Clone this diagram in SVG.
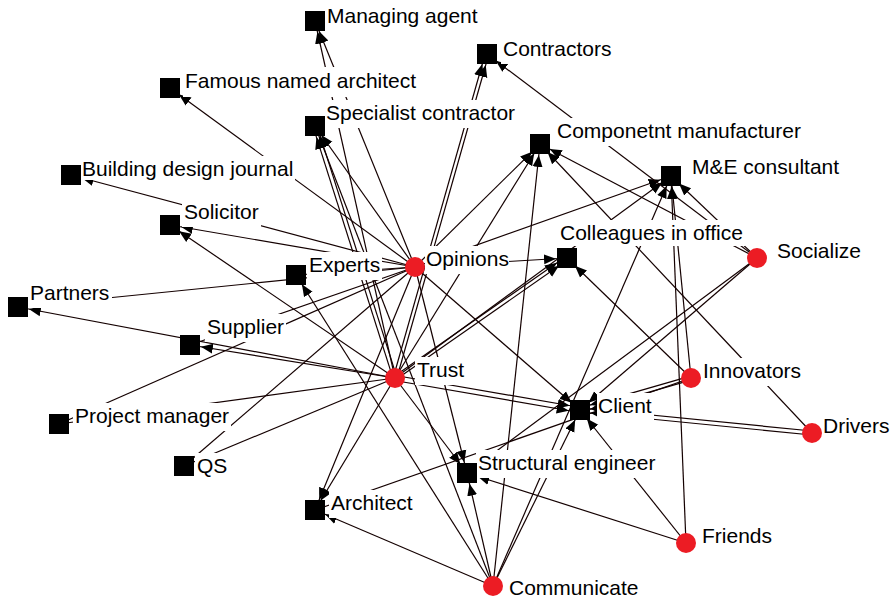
<svg xmlns="http://www.w3.org/2000/svg" width="891" height="601" viewBox="0 0 891 601">
  <defs>
    <marker id="arrow" markerUnits="userSpaceOnUse" markerWidth="24" markerHeight="12" viewBox="0 0 24 12" refX="23" refY="6" orient="auto">
      <path d="M0,1 L12,6 L0,11 z" fill="#000"/>
    </marker>
    <style>
      .e { stroke: #140000; stroke-width: 1.2; fill: none; marker-end: url(#arrow); }
      .p { stroke: #140000; stroke-width: 1.2; fill: none; }
      .bg { fill: #fff; }
      .lbl { font-family: "Liberation Sans", Arial, Helvetica, sans-serif; font-size: 21px; fill: #000; }
      .sq { fill: #000; }
      .dot { fill: #ec1c24; }
    </style>
  </defs>
  <rect width="891" height="601" fill="#fff"/>

  <!-- connectors: drawn centre to centre, arrowhead pulled back to the target's edge -->
  <g id="edges">
    <!-- Opinions -->
    <line class="e" x1="415" y1="267" x2="315" y2="21"/>
    <line class="e" x1="415" y1="267" x2="170" y2="88"/>
    <line class="e" x1="415" y1="267" x2="315" y2="126"/>
    <line class="e" x1="415" y1="267" x2="71" y2="175"/>
    <line class="e" x1="415" y1="267" x2="170" y2="225"/>
    <line class="e" x1="415" y1="267" x2="296" y2="275"/>
    <line class="p" x1="415" y1="267" x2="18" y2="307"/>
    <line class="p" x1="415" y1="267" x2="190" y2="345"/>
    <line class="p" x1="415" y1="267" x2="59" y2="424"/>
    <line class="p" x1="415" y1="267" x2="184" y2="466"/>
    <line class="e" x1="415" y1="267" x2="315" y2="510"/>
    <line class="e" x1="415" y1="267" x2="540" y2="144"/>
    <line class="e" x1="415" y1="267" x2="671" y2="176"/>
    <line class="e" x1="415" y1="267" x2="567" y2="258"/>
    <line class="e" x1="415" y1="267" x2="580" y2="410"/>
    <line class="e" x1="415" y1="267" x2="467" y2="473"/>
    <!-- Trust -->
    <line class="e" x1="395" y1="378" x2="315" y2="21"/>
    <line class="e" x1="393.1" y1="378.6" x2="313.1" y2="126.6"/>
    <line class="e" x1="396.9" y1="377.4" x2="316.9" y2="125.4"/>
    <line class="e" x1="395" y1="378" x2="170" y2="225"/>
    <line class="e" x1="395" y1="378" x2="18" y2="307"/>
    <line class="e" x1="395" y1="378" x2="190" y2="345"/>
    <line class="p" x1="395" y1="378" x2="59" y2="424"/>
    <line class="p" x1="395" y1="378" x2="184" y2="466"/>
    <line class="e" x1="395" y1="378" x2="315" y2="510"/>
    <line class="e" x1="393.3" y1="377.5" x2="485.3" y2="53.5"/>
    <line class="e" x1="396.7" y1="378.5" x2="488.7" y2="54.5"/>
    <line class="e" x1="395" y1="378" x2="540" y2="144"/>
    <line class="e" x1="395" y1="378" x2="671" y2="176"/>
    <line class="e" x1="394" y1="376.5" x2="566" y2="256.5"/>
    <line class="e" x1="396" y1="379.5" x2="568" y2="259.5"/>
    <line class="e" x1="395.5" y1="375.5" x2="580.5" y2="407.5"/>
    <line class="e" x1="394.5" y1="380.5" x2="579.5" y2="412.5"/>
    <line class="e" x1="395" y1="378" x2="467" y2="473"/>
    <!-- Communicate -->
    <line class="e" x1="493" y1="586" x2="315" y2="510"/>
    <line class="e" x1="493" y1="586" x2="296" y2="275"/>
    <line class="e" x1="493" y1="586" x2="315" y2="126"/>
    <line class="e" x1="493" y1="586" x2="467" y2="473"/>
    <line class="e" x1="493" y1="586" x2="540" y2="144"/>
    <line class="e" x1="493" y1="586" x2="580" y2="410"/>
    <line class="e" x1="493" y1="586" x2="671" y2="176"/>
    <!-- Socialize -->
    <line class="e" x1="757" y1="258" x2="487" y2="54"/>
    <line class="e" x1="757" y1="258" x2="540" y2="144"/>
    <line class="e" x1="757" y1="258" x2="671" y2="176"/>
    <line class="e" x1="757" y1="258" x2="580" y2="410"/>
    <line class="e" x1="757" y1="258" x2="467" y2="473"/>
    <!-- Innovators -->
    <line class="e" x1="691" y1="378" x2="567" y2="258"/>
    <line class="e" x1="690.4" y1="376.1" x2="579.4" y2="408.1"/>
    <line class="e" x1="691.6" y1="379.9" x2="580.6" y2="411.9"/>
    <line class="e" x1="691" y1="378" x2="671" y2="176"/>
    <line class="p" x1="691" y1="378" x2="315" y2="510"/>
    <!-- Drivers -->
    <line class="e" x1="812.2" y1="431" x2="580.2" y2="408"/>
    <line class="e" x1="811.8" y1="435" x2="579.8" y2="412"/>
    <line class="e" x1="812" y1="433" x2="540" y2="144"/>
    <!-- Friends -->
    <line class="e" x1="686" y1="543" x2="671" y2="176"/>
    <line class="e" x1="686" y1="543" x2="467" y2="473"/>
    <line class="e" x1="686" y1="543" x2="580" y2="410"/>
  </g>

  <!-- actor nodes (squares) -->
  <g id="managing-agent"><rect class="bg" x="325" y="2" width="154" height="29"/><text class="lbl" x="327" y="23">Managing agent</text><rect class="sq" x="305" y="11" width="20" height="20"/></g>
  <g id="famous-named-architect"><rect class="bg" x="183" y="67" width="235" height="30"/><text class="lbl" x="185" y="88">Famous named architect</text><rect class="sq" x="160" y="78" width="20" height="20"/></g>
  <g id="specialist-contractor"><rect class="bg" x="324" y="100" width="193" height="28"/><text class="lbl" x="326" y="120">Specialist contractor</text><rect class="sq" x="305" y="116" width="20" height="20"/></g>
  <g id="building-design-journal"><rect class="bg" x="80" y="156" width="215" height="24"/><text class="lbl" x="82" y="176">Building design journal</text><rect class="sq" x="61" y="165" width="20" height="20"/></g>
  <g id="solicitor"><rect class="bg" x="182" y="199" width="79" height="28"/><text class="lbl" x="184" y="219">Solicitor</text><rect class="sq" x="160" y="215" width="20" height="20"/></g>
  <g id="experts"><rect class="bg" x="307" y="252" width="75" height="28"/><text class="lbl" x="309" y="272">Experts</text><rect class="sq" x="286" y="265" width="20" height="20"/></g>
  <g id="partners"><rect class="bg" x="28" y="280" width="84" height="28"/><text class="lbl" x="30" y="300">Partners</text><rect class="sq" x="8" y="297" width="20" height="20"/></g>
  <g id="supplier"><rect class="bg" x="205" y="314" width="81" height="28"/><text class="lbl" x="207" y="334">Supplier</text><rect class="sq" x="180" y="335" width="20" height="20"/></g>
  <g id="project-manager"><rect class="bg" x="73" y="403" width="158" height="28"/><text class="lbl" x="75" y="423">Project manager</text><rect class="sq" x="49" y="414" width="20" height="20"/></g>
  <g id="qs"><rect class="bg" x="195" y="453" width="35" height="28"/><text class="lbl" x="197" y="473">QS</text><rect class="sq" x="174" y="456" width="20" height="20"/></g>
  <g id="architect"><rect class="bg" x="329" y="490" width="86" height="28"/><text class="lbl" x="331" y="510">Architect</text><rect class="sq" x="305" y="500" width="20" height="20"/></g>
  <g id="contractors"><rect class="bg" x="501" y="36" width="112" height="28"/><text class="lbl" x="503" y="56">Contractors</text><rect class="sq" x="477" y="44" width="20" height="20"/></g>
  <g id="component-manufacturer"><rect class="bg" x="555" y="118" width="248" height="28"/><text class="lbl" x="557" y="138">Componetnt manufacturer</text><rect class="sq" x="530" y="134" width="20" height="20"/></g>
  <g id="me-consultant"><rect class="bg" x="690" y="154" width="151" height="28"/><text class="lbl" x="692" y="174">M&amp;E consultant</text><rect class="sq" x="661" y="166" width="20" height="20"/></g>
  <g id="colleagues-in-office"><rect class="bg" x="558" y="220" width="187" height="26"/><text class="lbl" x="560" y="240">Colleagues in office</text><rect class="sq" x="557" y="248" width="20" height="20"/></g>
  <g id="client"><rect class="bg" x="597" y="393" width="57" height="28"/><text class="lbl" x="598" y="413">Client</text><rect class="sq" x="570" y="400" width="20" height="20"/></g>
  <g id="structural-engineer"><rect class="bg" x="476" y="450" width="181" height="28"/><text class="lbl" x="478" y="470">Structural engineer</text><rect class="sq" x="457" y="463" width="20" height="20"/></g>

  <!-- concept nodes (red dots) -->
  <g id="opinions"><rect class="bg" x="425" y="246" width="84" height="28"/><text class="lbl" x="426" y="266">Opinions</text><circle class="dot" cx="415" cy="267" r="10"/></g>
  <g id="trust"><rect class="bg" x="415" y="357" width="52" height="28"/><text class="lbl" x="417" y="377">Trust</text><circle class="dot" cx="395" cy="378" r="10"/></g>
  <g id="socialize"><rect class="bg" x="775" y="238" width="88" height="28"/><text class="lbl" x="777" y="258">Socialize</text><circle class="dot" cx="757" cy="258" r="10"/></g>
  <g id="innovators"><rect class="bg" x="701" y="358" width="102" height="28"/><text class="lbl" x="703" y="378">Innovators</text><circle class="dot" cx="691" cy="378" r="10"/></g>
  <g id="drivers"><rect class="bg" x="822" y="413" width="69" height="28"/><text class="lbl" x="823" y="433">Drivers</text><circle class="dot" cx="812" cy="433" r="10"/></g>
  <g id="friends"><rect class="bg" x="700" y="523" width="74" height="28"/><text class="lbl" x="702" y="543">Friends</text><circle class="dot" cx="686" cy="543" r="10"/></g>
  <g id="communicate"><rect class="bg" x="507" y="575" width="133" height="26"/><text class="lbl" x="509" y="595">Communicate</text><circle class="dot" cx="493" cy="586" r="10"/></g>
</svg>
